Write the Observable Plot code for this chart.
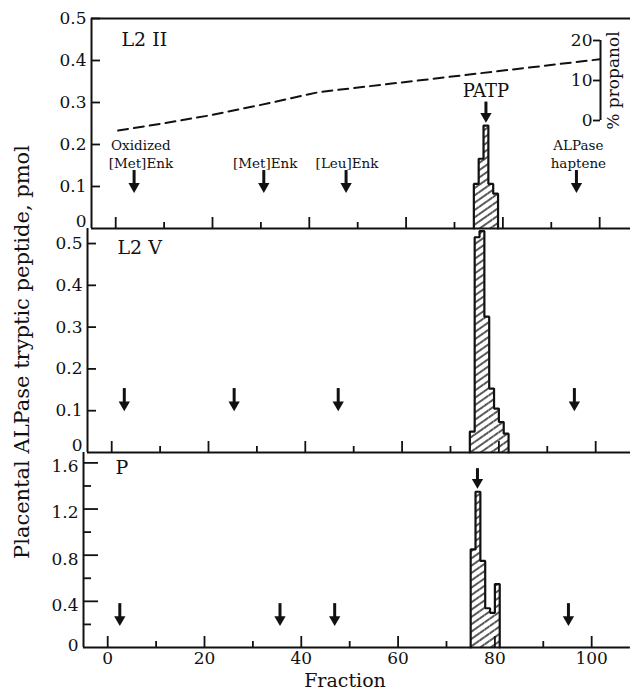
<!DOCTYPE html>
<html><head><meta charset="utf-8">
<script src="https://cdn.jsdelivr.net/npm/d3@7"></script>
<script src="https://cdn.jsdelivr.net/npm/@observablehq/plot@0.6"></script>
<style>
body{margin:0;background:#fff;overflow:hidden}
#chart{position:relative;width:630px;height:694px;overflow:hidden;background:#fff;font-family:"DejaVu Serif",serif;color:#111}
#chart svg.plotsvg{position:absolute;max-width:none !important}
.lbl{position:absolute;white-space:nowrap;font-family:"DejaVu Serif",serif;color:#111}
</style></head><body>
<div id="chart">
<svg width="0" height="0" style="position:absolute"><defs>
<pattern id="hatch" patternUnits="userSpaceOnUse" width="6" height="6" patternTransform="rotate(-35)">
<rect width="6" height="6" fill="#fff"/><line x1="0" y1="3" x2="6" y2="3" stroke="#111" stroke-width="1.4"/></pattern>
</defs></svg>
</div>
<script>
// ---------- data ----------
const xDomain = [-5, 108];
const fractionTicks = [0, 20, 40, 60, 80, 100];
const fractionTickLabels = ["0", "20", "40", "60", "80", "100"];
const fractionMinorTicks = [10, 30, 50, 70, 90];

const panelNames = ["L2 II", "L2 V", "P"];
const yTicksTop = [0, 0.1, 0.2, 0.3, 0.4, 0.5];
const yTicksMid = [0, 0.1, 0.2, 0.3, 0.4, 0.5];
const yTicksBot = [0, 0.4, 0.8, 1.2, 1.6];
const yMinorTicksBot = [0.2, 0.6, 1.0, 1.4];

// histogram bins: fraction (bin start) and pmol
const l2iiFractions = [74, 75, 76, 77, 78];
const l2iiValues = [0.106, 0.166, 0.245, 0.106, 0.083];
const l2vFractions = [74, 75, 76, 77, 78, 79, 80, 81];
const l2vValues = [0.05, 0.515, 0.53, 0.325, 0.153, 0.105, 0.073, 0.045];
const pFractions = [75, 76, 77, 78, 79, 80];
const pValues = [0.85, 1.35, 0.75, 0.34, 0.30, 0.55];

// elution markers (arrows)
const l2iiMarkerLabels = ["Oxidized\n[Met]Enk", "[Met]Enk", "[Leu]Enk", "ALPase\nhaptene"];
const l2iiMarkerFractions = [3.8, 30.6, 47.6, 95.2];
const l2iiLabelFractions = [5.2, 30.9, 47.8, 95.6];
const l2iiMarkerTail = 0.138, l2iiMarkerTip = 0.086;
const l2iiPatpFraction = 76.5, l2iiPatpTail = 0.301, l2iiPatpTip = 0.253;
const patpLabel = "PATP";

const l2vMarkerFractions = [2.6, 25.3, 46.8, 95.6];
const l2vMarkerTail = 0.153, l2vMarkerTip = 0.10;

const pMarkerFractions = [2.5, 35.6, 46.9, 95.2];
const pMarkerTail = 0.38, pMarkerTip = 0.19;
const pPatpFraction = 76.4, pPatpTail = 1.55, pPatpTip = 1.38;

// propanol gradient (%)
const propanolFractions = [0.5, 10, 20, 30, 42, 100];
const propanolPercent = [-2.0, -0.2, 1.9, 4.4, 7.6, 15.8];
const propanolTicks = [0, 10, 20];
const propanolLabel = "% propanol";

const yTitle = "Placental ALPase tryptic peptide, pmol";
const xTitle = "Fraction";

// ---------- helpers ----------
const chart = document.getElementById("chart");
const PX = 4.84;
const INK = "#111";
const FONT = "DejaVu Serif, serif";
const fmt = d => d === 0 ? "0" : d.toFixed(1);

function place(svg, left, top) {
  svg.classList.add("plotsvg");
  svg.style.left = left + "px";
  svg.style.top = top + "px";
  svg.style.maxWidth = "none";
  chart.appendChild(svg);
}

function bars(fr, vals) { return fr.map((f, i) => ({f, v: vals[i]})); }
function arrows(fr, tail, tip) { return fr.map(f => ({f, tail, tip})); }

function arrowMarks(data) {
  return [
    Plot.ruleX(data, {x: "f", y1: "tail", y2: "tip", insetBottom: 5, stroke: INK, strokeWidth: 3}),
    Plot.dot(data, {x: "f", y: "tip", symbol: "triangle", rotate: 180, r: 4.2, fill: INK, stroke: null, dy: -6})
  ];
}

// inward y ticks drawn as short rules starting at the left axis (length in px)
function yTickRules(ticks, lenPx) {
  return Plot.ruleY(ticks, {y: d => d, x1: xDomain[0], x2: xDomain[0] + lenPx / PX, stroke: INK, strokeWidth: 1.8});
}

function panel({marginLeft, frameTop, frameBottom, yDomain, marks, marginTop = 14, marginBottom = 10}) {
  const innerW = (xDomain[1] - xDomain[0]) * PX;
  const svg = Plot.plot({
    width: marginLeft + innerW,
    height: marginTop + (frameBottom - frameTop) + marginBottom,
    marginLeft, marginRight: 0, marginTop, marginBottom,
    style: {fontFamily: FONT, fontSize: "17px", background: "transparent", overflow: "visible", color: INK, maxWidth: "none"},
    x: {domain: xDomain},
    y: {domain: yDomain},
    marks
  });
  place(svg, 0, frameTop - marginTop);
  return svg;
}

function frameMarks(yTop, majorTicks, minorTicks, showXLabels, yMajorSize, yMinorSize, zeroDy, labelDy) {
  const m = [
    Plot.axisX(fractionTicks, {anchor: "bottom", tickSize: -11, tickPadding: showXLabels ? 15 : 0,
      tickFormat: showXLabels ? (d => fractionTickLabels[fractionTicks.indexOf(d)]) : (() => ""),
      label: null, strokeWidth: 1.8, fontSize: 17}),
    Plot.axisX(fractionMinorTicks, {anchor: "bottom", tickSize: -6, tickFormat: () => "", label: null, strokeWidth: 1.8}),
    Plot.axisY(majorTicks.filter(d => d > 0), {anchor: "left", tickSize: 0, tickPadding: 5, tickFormat: fmt, label: null, fontSize: 17, dy: labelDy}),
    Plot.axisY(majorTicks.filter(d => d === 0), {anchor: "left", tickSize: 0, tickPadding: 5, tickFormat: fmt, label: null, fontSize: 17, dy: zeroDy}),
    yTickRules(majorTicks.filter(d => d > 0), yMajorSize),
    Plot.ruleY([0], {stroke: INK, strokeWidth: 2}),
    Plot.ruleX([xDomain[0]], {stroke: INK, strokeWidth: 2})
  ];
  if (minorTicks) m.push(yTickRules(minorTicks, yMinorSize));
  if (yTop !== null) m.push(Plot.ruleY([yTop], {stroke: INK, strokeWidth: 2}));
  return m;
}

// hatched histogram with a bold outline of the whole profile
function histMarks(data) {
  const last = data[data.length - 1];
  const outline = [{f: data[0].f, v: 0}, ...data, {f: last.f + 1, v: 0}];
  return [
    Plot.rectY(data, {x1: "f", x2: d => d.f + 1, y: "v", fill: "url(#hatch)", stroke: null}),
    Plot.line(outline, {x: "f", y: "v", curve: "step-after", stroke: INK, strokeWidth: 2.2, strokeLinejoin: "miter"})
  ];
}

function nameMark(name, dx, dy) {
  return Plot.text([name], {frameAnchor: "top-left", dx, dy, lineAnchor: "top", textAnchor: "start", fontSize: 19, fill: INK});
}

// ---------- top panel: L2 II ----------
const topMarkers = l2iiMarkerFractions.map((f, i) => ({f, lf: l2iiLabelFractions[i], label: l2iiMarkerLabels[i], tail: l2iiMarkerTail, tip: l2iiMarkerTip}));
const topPatp = [{f: l2iiPatpFraction, label: patpLabel, tail: l2iiPatpTail, tip: l2iiPatpTip}];
panel({
  marginLeft: 91, frameTop: 18, frameBottom: 228, yDomain: [0, 0.5],
  marks: [
    ...histMarks(bars(l2iiFractions, l2iiValues)),
    ...frameMarks(0.5, yTicksTop, null, false, 9, 0, -7, 0),
    ...arrowMarks(topMarkers),
    ...arrowMarks(topPatp),
    Plot.text(topMarkers, {x: "lf", y: "tail", text: "label", lineAnchor: "bottom", dy: -3, fontSize: 13.5, lineHeight: 1.3, fill: INK}),
    Plot.text(topPatp, {x: "f", y: "tail", text: "label", lineAnchor: "bottom", dy: -5, fontSize: 18, fill: INK}),
    nameMark(panelNames[0], 30, 14)
  ]
});

// propanol gradient overlay on top panel
const propData = propanolFractions.map((f, i) => ({f, p: propanolPercent[i]}));
{
  const innerW = (xDomain[1] - xDomain[0]) * PX;
  const svg = Plot.plot({
    width: 91 + innerW, height: 14 + 210 + 10,
    marginLeft: 91, marginRight: 0, marginTop: 14, marginBottom: 10,
    style: {fontFamily: FONT, background: "transparent", overflow: "visible", maxWidth: "none"},
    x: {domain: xDomain, axis: null},
    y: {domain: [-26.5, 26], axis: null},
    marks: [Plot.line(propData, {x: "f", y: "p", stroke: INK, strokeWidth: 2, strokeDasharray: "10,6"})]
  });
  place(svg, 0, 18 - 14);
}
// propanol axis
{
  const svg = Plot.plot({
    width: 55, height: 110, marginLeft: 30, marginRight: 25, marginTop: 20, marginBottom: 10,
    style: {fontFamily: FONT, fontSize: "17px", background: "transparent", overflow: "visible", color: INK, maxWidth: "none"},
    x: {domain: [0, 1], axis: null},
    y: {domain: [0, 20]},
    marks: [
      Plot.ruleX([0], {stroke: INK, strokeWidth: 2}),
      Plot.axisY(propanolTicks, {anchor: "left", tickSize: 7, tickPadding: 1, label: null, strokeWidth: 1.8, fontSize: 17}),
      Plot.text([propanolLabel], {frameAnchor: "left", textAnchor: "middle", rotate: -90, dx: 13, fontSize: 17, fill: INK})
    ]
  });
  place(svg, 570, 20);
}

// ---------- middle panel: L2 V ----------
panel({
  marginLeft: 87, frameTop: 228, frameBottom: 452, yDomain: [0, 0.536],
  marks: [
    ...histMarks(bars(l2vFractions, l2vValues)),
    ...frameMarks(null, yTicksMid, null, false, 9, 0, -7, 0),
    ...arrowMarks(arrows(l2vMarkerFractions, l2vMarkerTail, l2vMarkerTip)),
    nameMark(panelNames[1], 30, 12)
  ]
});

// ---------- bottom panel: P ----------
panel({
  marginLeft: 83, frameTop: 452, frameBottom: 647, yDomain: [0, 1.69], marginBottom: 40,
  marks: [
    ...histMarks(bars(pFractions, pValues)),
    ...frameMarks(null, yTicksBot, yMinorTicksBot, true, 15, 8, -2, 4),
    ...arrowMarks(arrows(pMarkerFractions, pMarkerTail, pMarkerTip)),
    ...arrowMarks([{f: pPatpFraction, tail: pPatpTail, tip: pPatpTip}]),
    nameMark(panelNames[2], 32, 8)
  ]
});

// ---------- titles ----------
const yt = document.createElement("div");
yt.className = "lbl";
yt.textContent = yTitle;
yt.style.fontSize = "21px";
yt.style.left = "22px";
yt.style.top = "352px";
yt.style.transform = "translate(-50%,-50%) rotate(-90deg)";
chart.appendChild(yt);

const xt = document.createElement("div");
xt.className = "lbl";
xt.textContent = xTitle;
xt.style.fontSize = "19px";
xt.style.left = "345px";
xt.style.top = "680px";
xt.style.transform = "translate(-50%,-50%)";
chart.appendChild(xt);
</script>
</body></html>
